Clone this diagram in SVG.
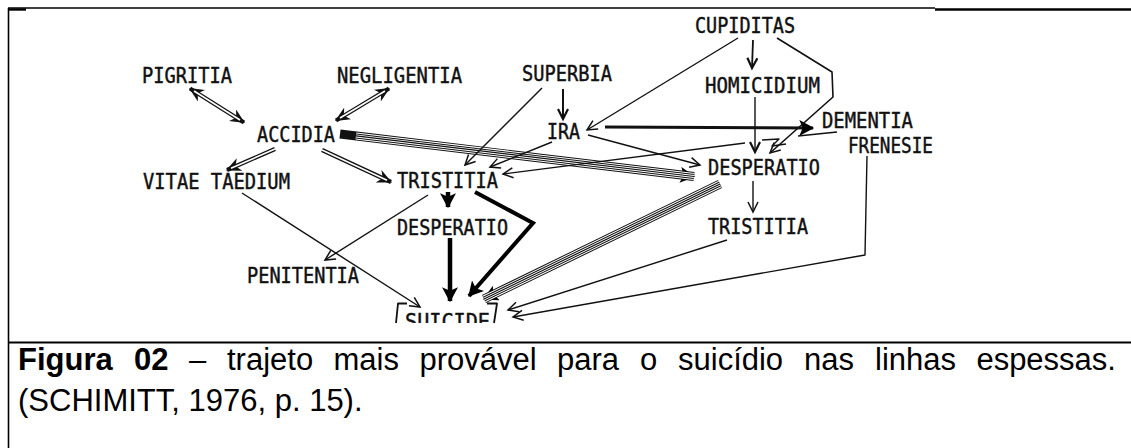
<svg xmlns="http://www.w3.org/2000/svg" width="1131" height="448" viewBox="0 0 1131 448">
<style>
.lbl{font-family:"DejaVu Sans Mono","Liberation Mono",monospace;font-size:21px;fill:#111;stroke:#111;stroke-width:0.45}
.cap{font-family:"Liberation Sans",Arial,sans-serif;font-size:31px;fill:#000}
.b{font-weight:bold}
.thin{fill:none;stroke:#111;stroke-width:1.4;stroke-linejoin:round}
.dblo{fill:none;stroke:#111;stroke-width:4.2}
.dbli{fill:none;stroke:#fff;stroke-width:1.6}
.heavy{fill:none;stroke:#000;stroke-width:4.5;stroke-linejoin:miter}
.h1{fill:none;stroke:#111;stroke-width:9}
.h2{fill:none;stroke:#fff;stroke-width:7}
.h3{fill:none;stroke:#111;stroke-width:5}
.h4{fill:none;stroke:#fff;stroke-width:3}
.h5{fill:none;stroke:#111;stroke-width:1.2}
.frame{fill:none;stroke:#000;stroke-width:1.6}
</style>
<defs>
<marker id="open" markerUnits="userSpaceOnUse" markerWidth="14" markerHeight="14" refX="10" refY="5" orient="auto" viewBox="-1 -1 14 12">
<path d="M0,0 L10,5 L0,10" fill="none" stroke="#111" stroke-width="1.5"/>
</marker>
<marker id="openB" markerUnits="userSpaceOnUse" markerWidth="14" markerHeight="14" refX="10" refY="5" orient="auto" viewBox="-1 -1 14 12">
<path d="M0,0 L10,5 L0,10" fill="none" stroke="#111" stroke-width="2.2"/>
</marker>
<marker id="dbl" markerUnits="userSpaceOnUse" markerWidth="16" markerHeight="14" refX="12" refY="6" orient="auto-start-reverse" viewBox="0 0 14 12">
<path d="M0,0 L13,6 L0,12 L4,6 z" fill="#111"/>
</marker>
<marker id="hv" markerUnits="userSpaceOnUse" markerWidth="16" markerHeight="16" refX="12" refY="7" orient="auto" viewBox="0 0 14 14">
<path d="M0,0 L13,7 L0,14 L3,7 z" fill="#000"/>
</marker>
<clipPath id="clipS"><rect x="380" y="290" width="140" height="33"/></clipPath>
</defs>

<g id="frame">
<path class="frame" d="M8,8 L935,8"/>
<path d="M935,9.5 L1131,9.5" fill="none" stroke="#000" stroke-width="2.4"/>
<path d="M8,9.5 L26,9.5" fill="none" stroke="#000" stroke-width="2.4"/>
<path class="frame" d="M8.5,8 L8.5,448"/>
<path class="frame" d="M8,342.5 L1131,342.5" style="stroke-width:2"/>
</g>

<g id="connectors">
<path class="dblo" d="M190,88.5 L244,122.5" marker-start="url(#dbl)" marker-end="url(#dbl)"/>
<path class="dbli" d="M194,91 L240,120"/>
<path class="dblo" d="M389,88.5 L336,120.5" marker-start="url(#dbl)" marker-end="url(#dbl)"/>
<path class="dbli" d="M385,91 L340,118"/>
<path class="dblo" d="M275,149 L227,170" marker-end="url(#dbl)"/>
<path class="dbli" d="M275,149 L231,168.3"/>
<path class="dblo" d="M322,150 L391,182" marker-end="url(#dbl)"/>
<path class="dbli" d="M322,150 L387,180.2"/>

<g id="band-accidia-desperatio">
<path class="h1" d="M340,134 L694,176.5" marker-end="url(#hv)"/>
<path class="h2" d="M356,135.9 L694,176.5"/>
<path class="h3" d="M356,135.9 L694,176.5"/>
<path class="h4" d="M356,135.9 L694,176.5"/>
<path class="h5" d="M356,135.9 L694,176.5"/>
</g>
<g id="band-desperatio-suicide">
<path class="h1" d="M720,184 L484,299" marker-end="url(#hv)"/>
<path class="h2" d="M720,184 L484,299"/>
<path class="h3" d="M720,184 L484,299"/>
<path class="h4" d="M720,184 L484,299"/>
<path class="h5" d="M720,184 L484,299"/>
</g>

<path class="heavy" d="M448,192 L448,207" marker-end="url(#hv)"/>
<path class="heavy" d="M450,238 L450,301" marker-end="url(#hv)"/>
<path class="heavy" d="M475,192 L533,223 L469,296" marker-end="url(#hv)" style="stroke-width:4"/>
<path d="M605,127 L813,128" fill="none" stroke="#111" stroke-width="3" marker-end="url(#hv)"/>

<path class="thin" d="M563,89 L563,119" marker-end="url(#openB)" style="stroke-width:2"/>
<path class="thin" d="M542,88 L465,165" marker-end="url(#open)"/>
<path class="thin" d="M738,38 L587,130" marker-end="url(#open)"/>
<path class="thin" d="M753,40 L752,68" marker-end="url(#openB)" style="stroke-width:1.8"/>
<path class="thin" d="M777,38 L832,72 L833,97 L770,153" marker-end="url(#open)" style="stroke-width:1.6"/>
<path class="thin" d="M755,97 L755,152" marker-end="url(#openB)"/>
<path class="thin" d="M552,142 L490,167" marker-end="url(#open)"/>
<path class="thin" d="M588,135 L700,165" marker-end="url(#open)"/>
<path class="thin" d="M745,143 L503,174" marker-end="url(#open)"/>
<path class="thin" d="M798,136 L837,132"/>
<path class="thin" d="M762,140 L779,139 L772,146 L786,144"/>
<path class="thin" d="M753,181 L753,212" marker-end="url(#open)"/>
<path class="thin" d="M727,240 L508,310" marker-end="url(#open)"/>
<path class="thin" d="M867,156 L865,255 L513,317" marker-end="url(#open)"/>
<path class="thin" d="M242,193 L420,307" marker-end="url(#open)"/>
<path class="thin" d="M428,195 L325,260" marker-end="url(#open)"/>
</g>

<g id="n-pigritia"><text class="lbl" x="142" y="83" textLength="90" lengthAdjust="spacingAndGlyphs">PIGRITIA</text></g>
<g id="n-negligentia"><text class="lbl" x="337" y="83" textLength="125" lengthAdjust="spacingAndGlyphs">NEGLIGENTIA</text></g>
<g id="n-superbia"><text class="lbl" x="522" y="81" textLength="90" lengthAdjust="spacingAndGlyphs">SUPERBIA</text></g>
<g id="n-cupiditas"><text class="lbl" x="695" y="33" textLength="100" lengthAdjust="spacingAndGlyphs">CUPIDITAS</text></g>
<g id="n-homicidium"><text class="lbl" x="705" y="93" textLength="115" lengthAdjust="spacingAndGlyphs">HOMICIDIUM</text></g>
<g id="n-accidia"><text class="lbl" x="257" y="142" textLength="78" lengthAdjust="spacingAndGlyphs">ACCIDIA</text></g>
<g id="n-ira"><text class="lbl" x="547" y="139" textLength="33" lengthAdjust="spacingAndGlyphs">IRA</text></g>
<g id="n-dementia"><text class="lbl" x="822" y="128" textLength="91" lengthAdjust="spacingAndGlyphs">DEMENTIA</text></g>
<g id="n-frenesie"><text class="lbl" x="848" y="153" textLength="85" lengthAdjust="spacingAndGlyphs">FRENESIE</text></g>
<g id="n-vitae"><text class="lbl" x="143" y="189" textLength="147" lengthAdjust="spacingAndGlyphs">VITAE TAEDIUM</text></g>
<g id="n-tristitia1"><text class="lbl" x="397" y="188" textLength="101" lengthAdjust="spacingAndGlyphs">TRISTITIA</text></g>
<g id="n-desperatio2"><text class="lbl" x="708" y="175" textLength="112" lengthAdjust="spacingAndGlyphs">DESPERATIO</text></g>
<g id="n-desperatio1"><text class="lbl" x="397" y="235" textLength="111" lengthAdjust="spacingAndGlyphs">DESPERATIO</text></g>
<g id="n-tristitia2"><text class="lbl" x="708" y="234" textLength="100" lengthAdjust="spacingAndGlyphs">TRISTITIA</text></g>
<g id="n-penitentia"><text class="lbl" x="247" y="283" textLength="112" lengthAdjust="spacingAndGlyphs">PENITENTIA</text></g>
<g id="n-suicide">
<path class="thin" d="M407,303.5 L398,303.5 L396,323" style="stroke-width:1.8"/>
<path class="thin" d="M487,303.5 L497,303.5 L494,323" style="stroke-width:1.8"/>
<text class="lbl" x="405" y="329" textLength="85" lengthAdjust="spacingAndGlyphs" clip-path="url(#clipS)">SUICIDE</text>
</g>

<g id="caption">
<text class="cap" y="370"><tspan class="b" x="18">Figura</tspan><tspan class="b" x="134">02</tspan><tspan x="189">–</tspan><tspan x="227">trajeto</tspan><tspan x="333.5">mais</tspan><tspan x="419.5">provável</tspan><tspan x="557">para</tspan><tspan x="640">o</tspan><tspan x="678">suicídio</tspan><tspan x="804">nas</tspan><tspan x="875">linhas</tspan><tspan x="976.4">espessas.</tspan></text>
<text class="cap" x="18" y="411">(SCHIMITT, 1976, p. 15).</text>
</g>
</svg>
